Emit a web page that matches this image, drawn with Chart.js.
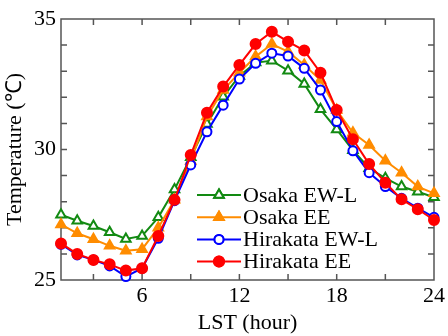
<!DOCTYPE html>
<html>
<head>
<meta charset="utf-8">
<script src="https://cdn.jsdelivr.net/npm/chart.js@4"></script>
<style>
  html, body { margin: 0; padding: 0; background: #fff; }
  #wrap { width: 448px; height: 336px; }
</style>
</head>
<body>
<div id="wrap"><canvas id="tempChart" width="448" height="336"></canvas></div>
<script>
// hourly air temperature, 1..24 LST
const hours = [1, 2, 3, 4, 5, 6, 7, 8, 9, 10, 11, 12, 13, 14, 15, 16, 17, 18, 19, 20, 21, 22, 23, 24];
const osakaEWL = [27.5, 27.27, 27.07, 26.83, 26.57, 26.69, 27.4, 28.47, 29.7, 30.98, 32.02, 32.82, 33.33, 33.4, 33.02, 32.51, 31.54, 30.77, 29.97, 29.28, 28.9, 28.58, 28.38, 28.17];
const osakaEE = [27.13, 26.79, 26.56, 26.31, 26.12, 26.18, 27.0, 28.07, 29.56, 31.26, 32.28, 32.94, 33.56, 34.04, 33.75, 33.24, 32.66, 31.51, 30.64, 30.17, 29.57, 29.11, 28.58, 28.32];
const hirakataEWL = [26.37, 25.96, 25.77, 25.54, 25.13, 25.45, 26.6, 28.04, 29.41, 30.68, 31.7, 32.7, 33.3, 33.69, 33.58, 33.11, 32.28, 31.07, 29.95, 29.11, 28.58, 28.13, 27.75, 27.4];
const hirakataEE = [26.4, 26.0, 25.77, 25.6, 25.36, 25.45, 26.69, 28.07, 29.79, 31.41, 32.41, 33.24, 34.04, 34.51, 34.13, 33.79, 32.94, 31.51, 30.39, 29.44, 28.73, 28.09, 27.71, 27.3];

const seriesNames = ["Osaka EW-L", "Osaka EE", "Hirakata EW-L", "Hirakata EE"];
const xTickLabels = [6, 12, 18, 24];
const xMinorTicks = [3, 6, 9, 12, 15, 18, 21];
const yTickLabels = [25, 30, 35];
const yMinorTicks = [26, 27, 28, 29, 30, 31, 32, 33, 34];

const serif = "'Liberation Serif', 'Times New Roman', serif";

function pts(vals) {
  return hours.map((h, i) => ({ x: h, y: vals[i] }));
}

// frame with inward ticks on all four sides
const framePlugin = {
  id: "frame",
  beforeDatasetsDraw(chart) {
    const { ctx, chartArea: a, scales } = chart;
    const len = 6;
    ctx.save();
    ctx.strokeStyle = "#555";
    ctx.lineWidth = 1.5;
    ctx.strokeRect(a.left, a.top, a.right - a.left, a.bottom - a.top);
    ctx.beginPath();
    xMinorTicks.forEach(v => {
      const px = scales.x.getPixelForValue(v);
      ctx.moveTo(px, a.bottom); ctx.lineTo(px, a.bottom - len);
      ctx.moveTo(px, a.top); ctx.lineTo(px, a.top + len);
    });
    yMinorTicks.forEach(v => {
      const py = scales.y.getPixelForValue(v);
      ctx.moveTo(a.left, py); ctx.lineTo(a.left + len, py);
      ctx.moveTo(a.right, py); ctx.lineTo(a.right - len, py);
    });
    ctx.stroke();
    ctx.restore();
  }
};

// legend with a line through each marker, inside the plot
const legendPlugin = {
  id: "lineLegend",
  afterDatasetsDraw(chart) {
    const { ctx } = chart;
    const x0 = 197, x1 = 241, rowTop = 195, rowGap = 22.2;
    ctx.save();
    chart.data.datasets.forEach((ds, i) => {
      const y = rowTop + i * rowGap;
      ctx.strokeStyle = ds.borderColor;
      ctx.lineWidth = 2;
      ctx.beginPath();
      ctx.moveTo(x0, y); ctx.lineTo(x1, y);
      ctx.stroke();
      Chart.helpers.drawPoint(ctx, {
        pointStyle: ds.pointStyle,
        radius: ds.pointRadius,
        rotation: 0,
        borderWidth: ds.pointBorderWidth
      }, (x0 + x1) / 2, y);
      ctx.fillStyle = ds.pointBackgroundColor;
      ctx.strokeStyle = ds.borderColor;
      ctx.lineWidth = ds.pointBorderWidth;
      ctx.fill();
      ctx.stroke();
      ctx.fillStyle = "#000";
      ctx.font = "22px " + serif;
      ctx.textBaseline = "middle";
      ctx.textAlign = "left";
      ctx.fillText(seriesNames[i], x1 + 2, y + 1);
    });
    ctx.restore();
  }
};

function series(i, vals, color, style, fill, r) {
  return {
    label: seriesNames[i],
    data: pts(vals),
    borderColor: color,
    backgroundColor: color,
    pointBackgroundColor: fill,
    pointBorderColor: color,
    pointStyle: style,
    pointRadius: r,
    pointBorderWidth: 2,
    borderWidth: 2,
    tension: 0,
    clip: false,
    order: 4 - i
  };
}

const ctx = document.getElementById("tempChart").getContext("2d");
new Chart(ctx, {
  type: "line",
  data: {
    datasets: [
      series(0, osakaEWL, "#128a12", "triangle", "#fff", 5.5),
      series(1, osakaEE, "#ff8c00", "triangle", "#ff8c00", 5.5),
      series(2, hirakataEWL, "#0000ff", "circle", "#fff", 4.5),
      series(3, hirakataEE, "#ff0000", "circle", "#ff0000", 5)
    ]
  },
  options: {
    responsive: false,
    animation: false,
    layout: { padding: { top: 19, right: 12, left: 0, bottom: 0 } },
    plugins: { legend: { display: false }, tooltip: { enabled: false } },
    scales: {
      x: {
        type: "linear",
        min: 1,
        max: 24,
        grid: { display: false, drawTicks: false },
        border: { display: false },
        afterBuildTicks: s => { s.ticks = xTickLabels.map(v => ({ value: v })); },
        afterFit: s => { s.height = 56; },
        ticks: { color: "#000", font: { family: serif, size: 22 }, padding: 3, maxRotation: 0 },
        title: { display: true, text: "LST (hour)", color: "#000", font: { family: serif, size: 22 }, padding: { top: 0, bottom: 0 } }
      },
      y: {
        min: 25,
        max: 35,
        grid: { display: false, drawTicks: false },
        border: { display: false },
        afterBuildTicks: s => { s.ticks = yTickLabels.map(v => ({ value: v })); },
        afterFit: s => { s.width = 61; },
        ticks: { color: "#000", font: { family: serif, size: 22 }, padding: 5 },
        title: { display: true, text: "Temperature (℃)", color: "#000", font: { family: serif, size: 22 }, padding: { top: 2, bottom: 0 } }
      }
    }
  },
  plugins: [framePlugin, legendPlugin]
});
</script>
</body>
</html>
